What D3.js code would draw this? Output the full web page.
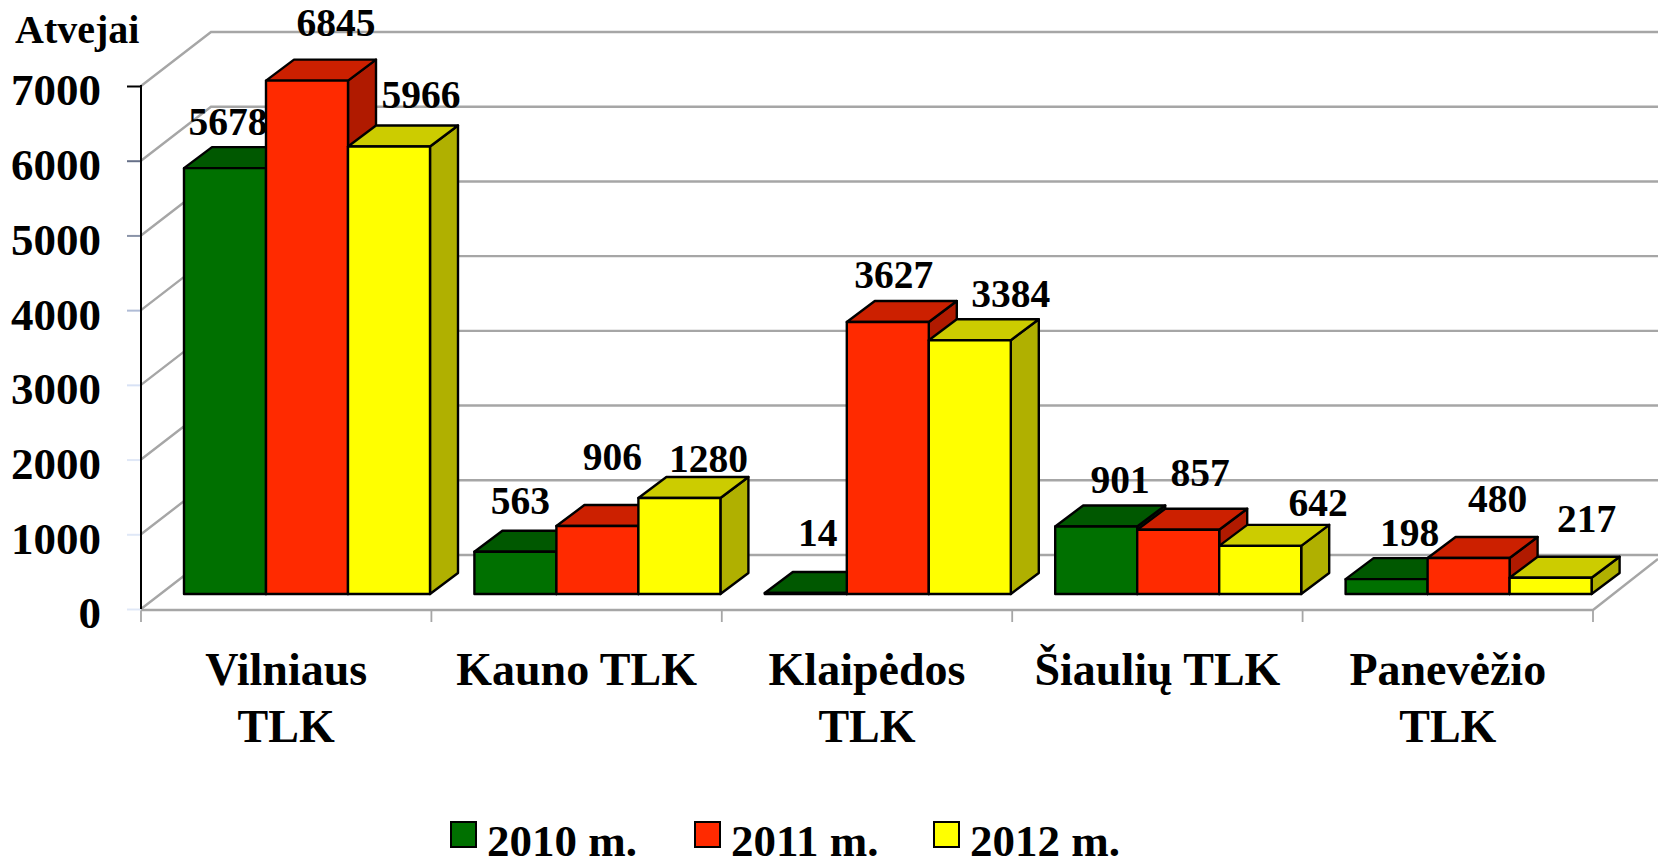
<!DOCTYPE html>
<html>
<head>
<meta charset="utf-8">
<script src="https://cdn.jsdelivr.net/npm/d3@7"></script>
<style>
  html, body { margin: 0; padding: 0; background: #fff; }
  svg { display: block; }
  text { font-family: "Liberation Serif", serif; font-weight: bold; fill: #000; }
</style>
</head>
<body>
<script>
// data
var categories = [["Vilniaus", "TLK"], ["Kauno TLK"], ["Klaipėdos", "TLK"], ["Šiaulių TLK"], ["Panevėžio", "TLK"]];
var seriesNames = ["2010 m.", "2011 m.", "2012 m."];
var values2010 = [5678, 563, 14, 901, 198];
var values2011 = [6845, 906, 3627, 857, 480];
var values2012 = [5966, 1280, 3384, 642, 217];
var yTicks = [0, 1000, 2000, 3000, 4000, 5000, 6000, 7000];
var seriesValues = [values2010, values2011, values2012];

// Configuration
var width = 1658, height = 859;
var left = 141, right = 1593, top7000 = 86, bottom0 = 609;
var wall = {dx: 70, dy: -54};
var depth = {dx: 28, dy: -21};
var barW = 82;

var faces = [
  {front: "#007000", top: "#005800", side: "#004c00"},
  {front: "#ff2a00", top: "#cc2000", side: "#b01a00"},
  {front: "#ffff00", top: "#cccc00", side: "#b0b000"}
];
var tickColors = ["#e0e8f7", "#e0e8f7", "#e0e8f7", "#d8e2f5", "#b0bcd6", "#8a93a8", "#667088", "#000000"];

// label offsets from the default spot above each bar, [category][series]
var labelNudge = [
  [[-11, -4], [15, -16], [18, -10]],
  [[-9, -9], [1, -27], [15, 3]],
  [[-2, -18], [-8, -5], [27, -4]],
  [[10, -4], [8, -15], [44, -1]],
  [[9, -4], [15, -17], [22, -17]]
];

// Scales
var x = d3.scaleBand().domain(d3.range(categories.length)).range([left, right]);
var y = d3.scaleLinear().domain([0, 7000]).range([bottom0, top7000]);
var yBar = d3.scaleLinear().domain([0, 7000]).range([594, 69]);

var svg = d3.select("body").append("svg").attr("width", width).attr("height", height);

// Walls
var grey = "#a6a6a6";
var grid = svg.append("g").attr("fill", "none").attr("stroke", grey).attr("stroke-width", 2.4);
yTicks.forEach(function (t) {
  grid.append("path").attr("d", d3.line()([
    [left, y(t)], [left + wall.dx, y(t) + wall.dy], [width, y(t) + wall.dy]
  ]));
});
grid.append("path").attr("d", d3.line()([[left, bottom0 + 1], [right, bottom0 + 1], [width, bottom0 - 50]]));
d3.range(categories.length + 1).forEach(function (i) {
  var px = left + i * x.step();
  grid.append("line").attr("x1", px).attr("x2", px).attr("y1", bottom0 + 1).attr("y2", 622).attr("stroke-width", 1.8);
});

// Y axis
var yAxis = d3.axisLeft(y).tickValues(yTicks).tickSize(14).tickPadding(26).tickFormat(d3.format("d"));
var axisG = svg.append("g").attr("transform", "translate(" + left + ",0)").call(yAxis);
axisG.select(".domain").remove();
axisG.selectAll(".tick line").attr("stroke", function (d, i) { return tickColors[i]; }).attr("stroke-width", 2);
axisG.selectAll(".tick text").attr("font-size", 45).attr("dy", "0.42em").style("font-family", '"Liberation Serif", serif');
svg.append("line").attr("x1", left).attr("x2", left).attr("y1", top7000 - 1).attr("y2", bottom0)
  .attr("stroke", "#000").attr("stroke-width", 2);

// Bars
var line = d3.line();
categories.forEach(function (c, i) {
  seriesNames.forEach(function (s, j) {
    var x0 = x(i) + 43 + j * barW, x1 = x0 + barW;
    var y0 = yBar(0), yT = yBar(seriesValues[j][i]);
    var g = svg.append("g").attr("stroke", "#000").attr("stroke-width", 2.4).attr("stroke-linejoin", "round");
    g.append("path").attr("fill", faces[j].side).attr("d", line([
      [x1, yT], [x1 + depth.dx, yT + depth.dy], [x1 + depth.dx, y0 + depth.dy], [x1, y0]
    ]) + "Z");
    g.append("path").attr("fill", faces[j].top).attr("d", line([
      [x0, yT], [x0 + depth.dx, yT + depth.dy], [x1 + depth.dx, yT + depth.dy], [x1, yT]
    ]) + "Z");
    g.append("path").attr("fill", faces[j].front).attr("d", line([
      [x0, yT], [x1, yT], [x1, y0], [x0, y0]
    ]) + "Z");
  });
});

// Data labels, on top of everything
categories.forEach(function (c, i) {
  seriesNames.forEach(function (s, j) {
    var v = seriesValues[j][i];
    svg.append("text")
      .attr("x", x(i) + 43 + j * barW + barW / 2 + depth.dx / 2 + labelNudge[i][j][0])
      .attr("y", yBar(v) - 29 + labelNudge[i][j][1])
      .attr("text-anchor", "middle").attr("font-size", 39.5)
      .text(v);
  });
});

// Category labels
categories.forEach(function (c, i) {
  c.forEach(function (part, k) {
    svg.append("text")
      .attr("x", x(i) + x.bandwidth() / 2)
      .attr("y", 685 + k * 57)
      .attr("text-anchor", "middle").attr("font-size", 46)
      .text(part);
  });
});

svg.append("text").attr("x", 15).attr("y", 43).attr("font-size", 40).text("Atvejai");

// Legend
var legendSquares = [451, 695, 934];
seriesNames.forEach(function (s, j) {
  svg.append("rect").attr("x", legendSquares[j]).attr("y", 822).attr("width", 25).attr("height", 25)
    .attr("fill", faces[j].front).attr("stroke", "#000").attr("stroke-width", 2);
  svg.append("text").attr("x", legendSquares[j] + 36).attr("y", 856).attr("font-size", 45).text(s);
});
</script>
</body>
</html>
